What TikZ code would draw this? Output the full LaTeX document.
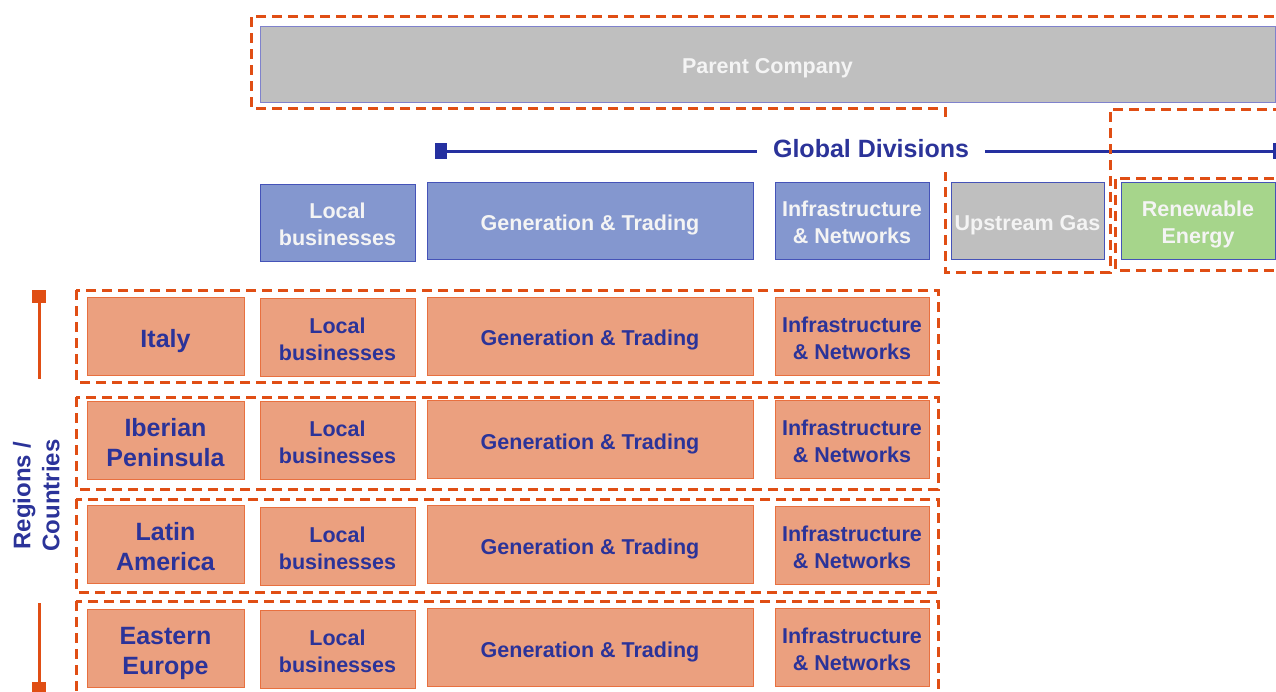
\documentclass[tikz,border=0pt]{standalone}
\usepackage{fontspec}
\setmainfont{Liberation Sans}
\definecolor{salmon}{HTML}{EBA07F}
\definecolor{boxedge}{HTML}{E8703F}
\definecolor{dashorange}{HTML}{E04E14}
\definecolor{navy}{HTML}{2B3399}
\definecolor{lineblue}{HTML}{2530A0}
\definecolor{divfill}{HTML}{8497CF}
\definecolor{divedge}{HTML}{4553B8}
\definecolor{grayfill}{HTML}{BFBFBF}
\definecolor{grayedge}{HTML}{7F82CC}
\definecolor{greenfill}{HTML}{A6D58B}
\definecolor{offwhite}{HTML}{F4F4F4}
\newcommand{\tl}[1]{\begin{tabular}{@{}c@{}}\rule{0pt}{\dimexpr\ht\strutbox+9pt\relax}#1\end{tabular}}
\newcommand{\plaintl}[1]{\begin{tabular}{@{}c@{}}#1\end{tabular}}
\begin{document}
\begin{tikzpicture}[x=1pt,y=-1pt,
  txt/.style={font=\bfseries\fontsize{21.5}{27}\selectfont, inner sep=0pt},
  bigtxt/.style={font=\bfseries\fontsize{25}{30}\selectfont, inner sep=0pt},
  orgbox/.style={txt, draw=boxedge, fill=salmon, line width=1pt, text=navy},
  regbox/.style={orgbox, bigtxt, minimum width=157pt},
  divbox/.style={txt, draw=divedge, fill=divfill, line width=1pt, text=offwhite},
  graybox/.style={divbox, fill=grayfill},
  greenbox/.style={divbox, fill=greenfill},
  dashline/.style={draw=dashorange, line width=3pt, dash pattern=on 10pt off 6pt},
  orgline/.style={draw=dashorange, line width=3pt},
  blueline/.style={draw=lineblue, line width=3pt},
  lbw/.style={minimum width=155pt},
  gtw/.style={minimum width=326pt},
  inw/.style={minimum width=154pt},
  rowh/.style={minimum height=78pt}
]
\useasboundingbox (0,0) rectangle (1276,691);
\clip (0,0) rectangle (1276,691);

% Parent company
\node[graybox, draw=grayedge, minimum width=1015pt, minimum height=76pt] (parent) at (767.5,64) {\tl{Parent Company}};

% Global divisions axis
\coordinate (gdl) at (441,151);
\coordinate (gdr) at (1274,151);
\draw[blueline] (gdl) -- (gdr);
\fill[lineblue] (435,143) rectangle (447,159);
\draw[blueline] (1274,143) -- (1274,159);

% top division boxes
\node[divbox, lbw, minimum height=77pt] (tlocal) at (337.5,222.5) {\tl{Local\\businesses}};
\node[divbox, gtw, minimum height=77pt] (tgen) at (590,220.5) {\tl{Generation \& Trading}};
\node[divbox, inw, minimum height=77pt] (tinfra) at (852,220.5) {\tl{Infrastructure\\\& Networks}};
\node[graybox, minimum width=153pt, minimum height=77pt] (tup) at (1027.5,220.5) {\tl{Upstream Gas}};
\node[greenbox, inw, minimum height=77pt] (tren) at (1198,220.5) {\tl{Renewable\\Energy}};

% dashed outlines at top
\draw[dashline] (1290,16) -- (251,16) -- (251,108) -- (945,108) -- (945,272) -- (1110,272) -- (1110,109) -- (1290,109);
\draw[dashline] (1290,178) -- (1115,178) -- (1115,270) -- (1290,270);

% Global divisions label (white background hides lines)
\node[bigtxt, text=navy, fill=white, minimum width=228pt, minimum height=50pt] (gdlabel) at (871,147) {\tl{Global Divisions}};

% row dashed containers
\draw[dashline] (76,290) rectangle (938,382);
\draw[dashline] (76,397) rectangle (938,489);
\draw[dashline] (76,499) rectangle (938,592);
\draw[dashline] (76,601) rectangle (938,710);

% row 1
\node[regbox, rowh] (r1) at (165.5,336.5) {\tl{Italy}};
\node[orgbox, lbw, rowh] (r1l) at (337.5,337) {\tl{Local\\businesses}};
\node[orgbox, gtw, rowh] (r1g) at (590,336) {\tl{Generation \& Trading}};
\node[orgbox, inw, rowh] (r1i) at (852,336) {\tl{Infrastructure\\\& Networks}};
% row 2
\node[regbox, rowh] (r2) at (165.5,440.5) {\tl{Iberian\\Peninsula}};
\node[orgbox, lbw, rowh] (r2l) at (337.5,440.5) {\tl{Local\\businesses}};
\node[orgbox, gtw, rowh] (r2g) at (590,439.5) {\tl{Generation \& Trading}};
\node[orgbox, inw, rowh] (r2i) at (852,439) {\tl{Infrastructure\\\& Networks}};
% row 3
\node[regbox, rowh] (r3) at (165.5,544.5) {\tl{Latin\\America}};
\node[orgbox, lbw, rowh] (r3l) at (337.5,546) {\tl{Local\\businesses}};
\node[orgbox, gtw, rowh] (r3g) at (590,544.5) {\tl{Generation \& Trading}};
\node[orgbox, inw, rowh] (r3i) at (852,545) {\tl{Infrastructure\\\& Networks}};
% row 4
\node[regbox, rowh] (r4) at (165.5,648.5) {\tl{Eastern\\Europe}};
\node[orgbox, lbw, rowh] (r4l) at (337.5,649) {\tl{Local\\businesses}};
\node[orgbox, gtw, rowh] (r4g) at (590,647.5) {\tl{Generation \& Trading}};
\node[orgbox, inw, rowh] (r4i) at (852,647.5) {\tl{Infrastructure\\\& Networks}};

% Regions / Countries axis
\node[font=\bfseries\fontsize{24}{29}\selectfont, text=navy, rotate=90, inner sep=0pt] (rclabel) at (39,495.5) {\plaintl{Regions /\\Countries}};
\coordinate (rtop) at (39,296);
\coordinate (rtopend) at (39,379);
\coordinate (rbot) at (39,687);
\coordinate (rbotend) at (39,603);
\draw[orgline] (rtop) -- (rtopend);
\fill[dashorange] (32,290) rectangle (46,303);
\draw[orgline] (rbotend) -- (rbot);
\fill[dashorange] (32,682) rectangle (46,695);
\end{tikzpicture}
\end{document}
